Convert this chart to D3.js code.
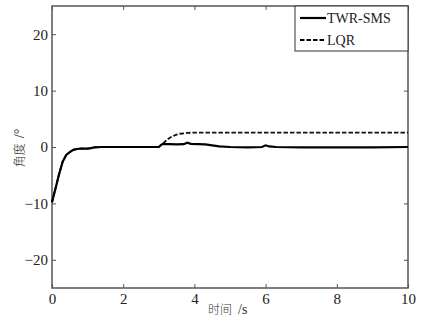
<!DOCTYPE html>
<html>
<head>
<meta charset="utf-8">
<script src="https://cdn.jsdelivr.net/npm/d3@7"></script>
<style>
  body { margin: 0; background: #fff; }
  text { font-family: "Liberation Serif", "Times New Roman", serif; }
</style>
</head>
<body>
<svg></svg>
<script>
const width = 424;
const height = 321;

// Datos
const tSms = [0, 0.1, 0.2, 0.3, 0.4, 0.5, 0.6, 0.7, 0.8, 1.0, 1.1, 1.2, 1.4, 1.6, 2.0, 2.5, 3.0, 3.05, 3.1, 3.3, 3.5, 3.7, 3.8, 3.9, 4.1, 4.3, 4.5, 4.7, 5.0, 5.5, 5.9, 6.0, 6.1, 6.3, 7.0, 8.0, 9.0, 10];
const vSms = [-9.8, -7.3, -4.8, -2.6, -1.4, -0.9, -0.5, -0.35, -0.3, -0.3, -0.2, -0.05, 0, 0, 0, 0, 0, 0.3, 0.5, 0.5, 0.45, 0.5, 0.75, 0.55, 0.5, 0.45, 0.3, 0.1, 0, -0.05, 0, 0.3, 0.1, 0, -0.05, -0.05, -0.05, 0];
const tLqr = [0, 0.1, 0.2, 0.3, 0.4, 0.5, 0.6, 0.7, 0.8, 1.0, 1.1, 1.2, 1.4, 1.6, 2.0, 2.5, 3.0, 3.1, 3.2, 3.3, 3.4, 3.5, 3.6, 3.8, 4.0, 4.5, 5.0, 6.0, 7.0, 8.0, 9.0, 10];
const vLqr = [-9.8, -7.3, -4.8, -2.6, -1.4, -0.9, -0.5, -0.35, -0.3, -0.3, -0.2, -0.05, 0, 0, 0, 0, 0, 0.5, 1.1, 1.6, 1.95, 2.2, 2.35, 2.5, 2.55, 2.55, 2.55, 2.55, 2.55, 2.55, 2.55, 2.55];
const xTicks = [0, 2, 4, 6, 8, 10];
const yTicks = [-20, -10, 0, 10, 20];

const svg = d3.select("svg").attr("width", width).attr("height", height);

const x0 = 52, x1 = 408, y0 = 288, y1 = 6;
const x = d3.scaleLinear().domain([0, 10]).range([x0, x1]);
const y = d3.scaleLinear().domain([-25, 25]).range([y0, y1]);

const axisColor = "#555";
const fs = 15;
const cjk = "'Noto Sans CJK SC', sans-serif";

// Ejes con marcas hacia dentro
const gx = svg.append("g").attr("transform", `translate(0,${y0})`)
  .call(d3.axisBottom(x).tickValues(xTicks).tickSizeInner(-4).tickSizeOuter(0).tickPadding(5));
const gxTop = svg.append("g").attr("transform", `translate(0,${y1})`)
  .call(d3.axisTop(x).tickValues(xTicks).tickSizeInner(-4).tickSizeOuter(0).tickFormat(""));
const gy = svg.append("g").attr("transform", `translate(${x0},0)`)
  .call(d3.axisLeft(y).tickValues(yTicks).tickSizeInner(-4).tickSizeOuter(0).tickPadding(4)
    .tickFormat(d => d < 0 ? "\u2212" + Math.abs(d) : d));
const gyR = svg.append("g").attr("transform", `translate(${x1},0)`)
  .call(d3.axisRight(y).tickValues(yTicks).tickSizeInner(-4).tickSizeOuter(0).tickFormat(""));

[gx, gxTop, gy, gyR].forEach(g => {
  g.select(".domain").remove();
  g.selectAll("line").attr("stroke", axisColor);
  g.selectAll("text").attr("font-size", fs).attr("fill", "#222")
    .style("font-family", "'Liberation Serif', serif");
});

// Marco
svg.append("rect")
  .attr("x", x0).attr("y", y1)
  .attr("width", x1 - x0).attr("height", y0 - y1)
  .attr("fill", "none").attr("stroke", axisColor).attr("stroke-width", 1.5);

const line = d3.line().x(d => x(d[0])).y(d => y(d[1]));

svg.append("path")
  .datum(d3.zip(tLqr, vLqr))
  .attr("d", line)
  .attr("fill", "none").attr("stroke", "#111").attr("stroke-width", 1.8)
  .attr("stroke-dasharray", "4.5,2");

svg.append("path")
  .datum(d3.zip(tSms, vSms))
  .attr("d", line)
  .attr("fill", "none").attr("stroke", "#000").attr("stroke-width", 2.2);

// Leyenda
const lg = svg.append("g");
lg.append("rect").attr("x", 295).attr("y", y1).attr("width", x1 - 295).attr("height", 45)
  .attr("fill", "#fff").attr("stroke", "#333").attr("stroke-width", 1);
const legendItems = [["TWR-SMS", null, 2.2], ["LQR", "4.5,2", 1.8]];
legendItems.forEach((it, i) => {
  const yy = 18 + i * 22;
  lg.append("line").attr("x1", 300).attr("x2", 326).attr("y1", yy).attr("y2", yy)
    .attr("stroke", "#000").attr("stroke-width", it[2])
    .attr("stroke-dasharray", it[1]);
  lg.append("text").attr("x", 327).attr("y", yy + 5).attr("font-size", 14)
    .attr("fill", "#222").text(it[0]);
});

// Títulos de ejes
const xl = svg.append("text")
  .attr("x", 208).attr("y", 314)
  .attr("font-size", 12).attr("fill", "#333");
xl.append("tspan").style("font-family", cjk).style("font-weight", 300).text("时间");
xl.append("tspan").attr("x", 238).attr("font-size", 14).text("/s");

const yl = svg.append("text")
  .attr("transform", `translate(24,148) rotate(-90)`)
  .attr("text-anchor", "middle")
  .attr("font-size", 12).attr("fill", "#333");
yl.append("tspan").style("font-family", cjk).style("font-weight", 300).text("角度");
yl.append("tspan").attr("dx", 5).attr("font-size", 14).text("/°");
</script>
</body>
</html>
